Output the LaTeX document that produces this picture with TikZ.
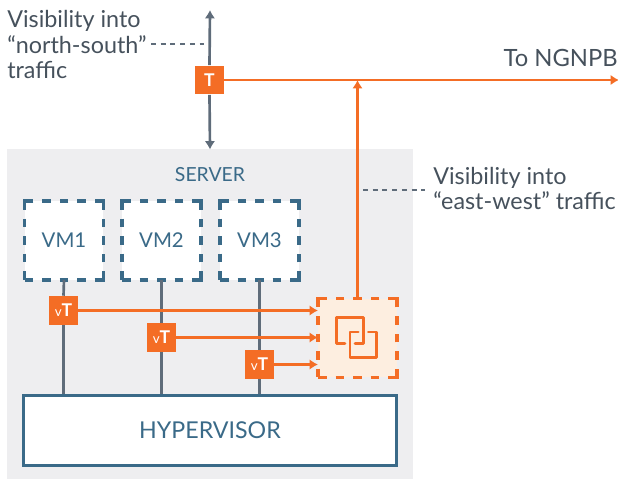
\documentclass[tikz,border=0pt]{standalone}
\usepackage{fontspec}
\setmainfont{Lato}
\usetikzlibrary{arrows.meta,positioning}
\tikzset{>={Latex[length=6pt,width=7.5pt]}}
\definecolor{tapo}{HTML}{F46D25}
\definecolor{slate}{HTML}{5F6C7A}
\definecolor{teal}{HTML}{3A6A88}
\definecolor{srvbg}{HTML}{EEEEF0}
\definecolor{tapbg}{HTML}{FDEEE0}
\definecolor{txt}{HTML}{46515C}
\tikzset{
  cornerdash/.style={dash pattern=on 12.48pt off 6.24pt on 6.24pt off 6.24pt on 6.24pt off 6.24pt on 6.24pt off 6.24pt,dash phase=6.24pt,minimum size=56.16pt,inner sep=0pt,outer sep=0pt},
  vmbox/.style={draw=teal,fill=white,line width=2.4pt,cornerdash,text=teal,font=\fontsize{14.5}{18}\selectfont},
  tapsq/.style={fill=tapo,text=white,minimum size=20.6pt,inner sep=0pt,font=\fontsize{12.5}{14}\selectfont\bfseries},
  vtsq/.style={tapsq,font=\fontsize{12.5}{14}\selectfont},
  lbl/.style={align=left,anchor=west,inner sep=0pt,text=txt,font=\fontsize{16.6}{18.2}\selectfont},
  wire/.style={draw=slate,line width=1.9pt},
  feed/.style={draw=tapo,line width=1.6pt,->},
  hint/.style={draw=slate,line width=1.5pt,dash pattern=on 3.6pt off 3.3pt},
  icon/.style={draw=tapo,line width=1.8pt,line cap=round,line join=round}
}
\begin{document}
\begin{tikzpicture}[x=0.025cm,y=-0.025cm]
        \useasboundingbox (0,0) rectangle (618,479);
        \fill[srvbg] (7,149) rectangle (413,479);
        \node[text=teal,font=\fontsize{13.8}{16}\selectfont] (server) at (210,175) {SERVER};
        \node[vmbox] (vm1) at (64,240.5) {VM1};
        \node[vmbox] (vm2) at (161.5,240.5) {VM2};
        \node[vmbox] (vm3) at (259.5,240.5) {VM3};
        \node[draw=teal,fill=white,line width=2.1pt,minimum width=265pt,minimum height=49.5pt,inner sep=0pt,text=teal,font=\fontsize{16.5}{18}\selectfont] (hyper) at (210,430.5) {HYPERVISOR};
        \node[tapsq] (tap) at (209.5,80) {T};
        \node[vtsq] (vt1) at (63.5,310.5) {{\fontsize{9.5}{10}\selectfont v}\textbf{T}};
        \node[vtsq] (vt2) at (161.5,337.5) {{\fontsize{9.5}{10}\selectfont v}\textbf{T}};
        \node[vtsq] (vt3) at (259.5,364.5) {{\fontsize{9.5}{10}\selectfont v}\textbf{T}};
        \node[draw=tapo,fill=tapbg,line width=2.4pt,cornerdash] (ngpb) at (357.5,338) {};
        \coordinate (north) at (210,10);
        \coordinate (south) at (210,149.5);
        \coordinate (ngnpb) at (619,80);
        \node[lbl] (ns) at (7,44.5) {Visibility into\\“north-south”\\traffic};
        \node[lbl] (ew) at (433,188.5) {Visibility into\\“east-west” traffic};
        \node[anchor=east,inner sep=0pt,text=txt,font=\fontsize{16.9}{18}\selectfont] (to) at (618,58) {To NGNPB};
        % taps on the links
        \draw[wire,->] (tap.north) -- (north);
        \draw[wire,->] (tap.south) -- (south);
        \draw[wire] (vm1.south) -- (vt1.north);
        \draw[wire] (vm2.south) -- (vt2.north);
        \draw[wire] (vm3.south) -- (vt3.north);
        \draw[wire] (vt1.south) -- (vt1.south |- hyper.north);
        \draw[wire] (vt2.south) -- (vt2.south |- hyper.north);
        \draw[wire] (vt3.south) -- (vt3.south |- hyper.north);
        % mirrored traffic
        \draw[feed] (tap.east) -- (ngnpb);
        \draw[feed] (vt1.east) -- (vt1.east -| ngpb.west);
        \draw[feed] (vt2.east) -- (vt2.east -| ngpb.west);
        \draw[feed] (vt3.east) -- (vt3.east -| ngpb.west);
        \draw[feed] (ngpb.north) -- (ngpb.north |- tap.east);
        % hints
        \draw[hint] (151,44) -- (204,44);
        \draw[hint] (363,190) -- (425,190);
        % icon
        \draw[icon] (345,343.3) -- (336.7,343.3) -- (336.7,317.3) -- (363.3,317.3) -- (363.3,343.3) -- (355,343.3);
        \draw[icon] (358.3,332) -- (350,332) -- (350,357.7) -- (376.7,357.7) -- (376.7,332) -- (368.3,332);
\end{tikzpicture}
\end{document}
